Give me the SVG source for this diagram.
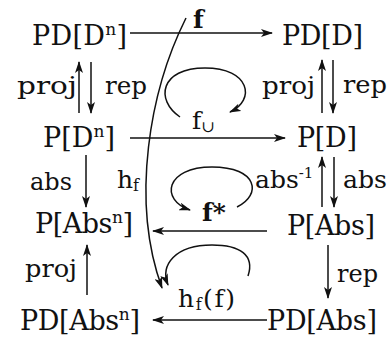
<svg xmlns="http://www.w3.org/2000/svg" width="392" height="341" viewBox="0 0 392 341">
<style>
.n{font-family:"DejaVu Serif","Liberation Serif",serif;font-size:27px;fill:#111}
.l{font-family:"DejaVu Serif","Liberation Serif",serif;font-size:25px;fill:#111}
.b{font-weight:bold}
.c{fill:none;stroke:#111;stroke-width:1.5}
</style>
<defs>
<marker id="ah" viewBox="0 0 12 8" refX="11" refY="4" markerWidth="12" markerHeight="8" markerUnits="userSpaceOnUse" orient="auto">
<path d="M0,0 L12,4 L0,8 L3,4 z" fill="#111"/>
</marker>
</defs>
<rect width="392" height="341" fill="#fff"/>
<g id="n-pdDn"><text class="n" x="32" y="45" textLength="95">PD[D<tspan font-size="17" dy="-10">n</tspan><tspan dy="10">]</tspan></text></g>
<g id="n-pdD"><text class="n" x="282" y="45" textLength="81">PD[D]</text></g>
<g id="n-pDn"><text class="n" x="43" y="147" textLength="72">P[D<tspan font-size="17" dy="-10">n</tspan><tspan dy="10">]</tspan></text></g>
<g id="n-pD"><text class="n" x="297" y="147" textLength="60">P[D]</text></g>
<g id="n-pAbsn"><text class="n" x="35" y="233" textLength="98">P[Abs<tspan font-size="17" dy="-10">n</tspan><tspan dy="10">]</tspan></text></g>
<g id="n-pAbs"><text class="n" x="287" y="235" textLength="88">P[Abs]</text></g>
<g id="n-pdAbsn"><text class="n" x="20" y="330" textLength="120">PD[Abs<tspan font-size="17" dy="-10">n</tspan><tspan dy="10">]</tspan></text></g>
<g id="n-pdAbs"><text class="n" x="267" y="330" textLength="110">PD[Abs]</text></g>
<g id="connectors">
<path class="c" d="M130,33 H272" marker-end="url(#ah)"/>
<path class="c" d="M130,138 H285" marker-end="url(#ah)"/>
<path class="c" d="M267,231 H153" marker-end="url(#ah)"/>
<path class="c" d="M267,320 H153" marker-end="url(#ah)"/>
<path class="c" d="M79,113 V62" marker-end="url(#ah)"/>
<path class="c" d="M91,62 V113" marker-end="url(#ah)"/>
<path class="c" d="M86,155 V207" marker-end="url(#ah)"/>
<path class="c" d="M87,295 V245" marker-end="url(#ah)"/>
<path class="c" d="M322,113 V60" marker-end="url(#ah)"/>
<path class="c" d="M333,60 V113" marker-end="url(#ah)"/>
<path class="c" d="M322,207 V157" marker-end="url(#ah)"/>
<path class="c" d="M334,157 V207" marker-end="url(#ah)"/>
<path class="c" d="M328,245 V298" marker-end="url(#ah)"/>
<path class="c" d="M186,18 C150,90 130,200 162,288" marker-end="url(#ah)"/>
<path class="c" d="M180,117 C155,100 160,68 205,68 C250,68 256,100 230,112" marker-end="url(#ah)"/>
<path class="c" d="M237,207 C262,195 258,167 212,167 C165,167 160,200 190,210" marker-end="url(#ah)"/>
<path class="c" d="M248,276 C255,255 240,245 212,245 C175,245 160,265 168,285" marker-end="url(#ah)"/>
</g>
<g id="labels">
<text class="l" x="17" y="94" textLength="60" lengthAdjust="spacingAndGlyphs">proj</text>
<text class="l" x="105" y="94" textLength="42" lengthAdjust="spacingAndGlyphs">rep</text>
<text class="l" x="262" y="94" textLength="53" lengthAdjust="spacingAndGlyphs">proj</text>
<text class="l" x="343" y="93" textLength="44" lengthAdjust="spacingAndGlyphs">rep</text>
<text class="l b" x="193" y="28">f</text>
<text class="l" x="192" y="129">f<tspan font-size="16" dy="3">∪</tspan></text>
<text class="l" x="30" y="190" textLength="42" lengthAdjust="spacingAndGlyphs">abs</text>
<text class="l" x="117" y="188">h<tspan font-size="16" dy="3">f</tspan></text>
<text class="l" x="255" y="188">abs<tspan font-size="15" dy="-10">-1</tspan></text>
<text class="l" x="343" y="188" textLength="44" lengthAdjust="spacingAndGlyphs">abs</text>
<text class="l b" x="202" y="221">f*</text>
<text class="l" x="25" y="277" textLength="52" lengthAdjust="spacingAndGlyphs">proj</text>
<text class="l" x="337" y="282" textLength="41" lengthAdjust="spacingAndGlyphs">rep</text>
<text class="l" x="178" y="307" textLength="57">h<tspan font-size="16" dy="3">f</tspan><tspan dy="-3">(f)</tspan></text>
</g>
</svg>
